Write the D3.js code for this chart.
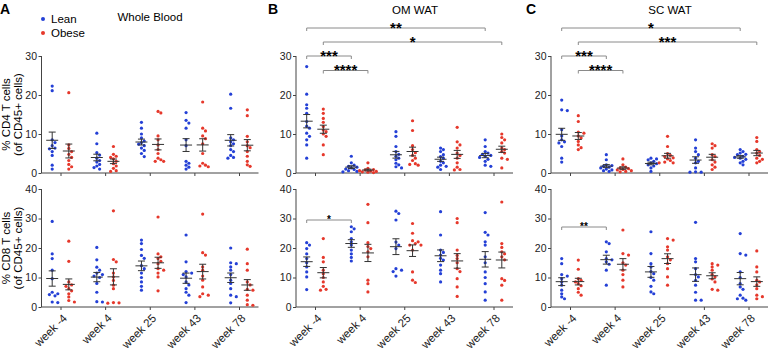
<!DOCTYPE html>
<html>
<head>
<meta charset="utf-8">
<script src="https://cdn.jsdelivr.net/npm/d3@7"></script>
<style>
  body { margin: 0; background: #fff; }
  svg { font-family: "Liberation Sans", Arial, sans-serif; }
  .axis path, .axis line { stroke: #444; }
  .axis text { fill: #222; font-size: 10.5px; }
</style>
</head>
<body>
<svg id="chart" width="768" height="350"></svg>
<script>
// categories
const weeks = ["week -4", "week 4", "week 25", "week 43", "week 78"];
const tissues = ["Whole Blood", "OM WAT", "SC WAT"];
const letters = ["A", "B", "C"];
const cd4Ticks = [0, 10, 20, 30];
const cd8Ticks = [0, 10, 20, 30, 40];

// % CD4 T cells, one list per week
const bloodCD4Lean = [
  [22.3, 21.1, 8.5, 7.8, 7.0, 6.4, 6.2, 5.5, 4.5, 2.0, 1.0],
  [10.2, 7.5, 5.2, 4.6, 3.8, 3.2, 2.8, 2.2, 1.8, 1.4, 1.0],
  [13.0, 11.5, 10.0, 9.0, 8.2, 7.8, 7.4, 7.0, 6.4, 5.8, 5.0, 4.2],
  [15.5, 13.5, 12.8, 11.5, 8.5, 7.0, 3.0, 2.5, 2.0, 1.5, 1.0],
  [20.2, 16.6, 9.0, 8.5, 8.0, 7.5, 7.0, 6.0, 5.5, 4.5, 4.0, 3.8]
];
const bloodCD4Obese = [
  [20.6, 7.2, 6.3, 5.5, 4.8, 4.0, 3.2, 2.2, 1.6, 1.0],
  [6.8, 4.8, 4.3, 4.0, 3.6, 3.0, 2.4, 1.8, 1.2, 0.6, 0.4],
  [15.8, 15.4, 9.5, 8.5, 7.2, 6.0, 5.0, 3.8, 3.4, 3.0, 3.0],
  [18.2, 11.5, 10.8, 9.5, 8.8, 7.5, 5.0, 2.5, 2.0, 1.8, 1.6],
  [16.2, 14.7, 9.4, 8.0, 7.0, 6.5, 5.5, 4.3, 3.0, 2.1, 1.7]
];
const omCD4Lean = [
  [27.3, 20.2, 17.5, 16.6, 15.3, 13.2, 12.0, 11.5, 10.2, 9.4, 8.5, 7.2, 3.8],
  [4.3, 2.6, 2.0, 1.7, 1.5, 1.3, 1.0, 0.9, 0.6, 0.4, 0.3],
  [10.6, 9.4, 6.8, 5.5, 4.8, 4.3, 3.8, 3.4, 2.5, 2.1, 1.6, 1.3],
  [6.4, 6.0, 5.5, 4.7, 4.2, 3.8, 3.0, 2.6, 2.0, 1.7, 1.5, 0.9],
  [8.5, 6.8, 5.5, 5.1, 4.8, 4.5, 4.3, 4.0, 3.5, 3.0, 2.0, 1.7]
];
const omCD4Obese = [
  [16.4, 15.3, 14.0, 13.0, 11.9, 11.0, 10.6, 10.0, 9.4, 7.2, 4.7],
  [2.6, 1.2, 0.9, 0.8, 0.6, 0.5, 0.4, 0.3, 0.2, 0.1],
  [13.4, 10.9, 7.0, 6.0, 5.2, 4.5, 3.8, 3.2, 2.4, 2.0, 2.2],
  [11.7, 8.0, 7.2, 6.4, 5.1, 4.5, 3.8, 2.6, 1.5, 0.9, 0.8],
  [10.0, 9.1, 8.5, 7.7, 6.4, 6.0, 5.5, 5.1, 3.8, 3.5, 1.3]
];
const scCD4Lean = [
  [18.7, 16.2, 16.0, 11.1, 9.5, 8.5, 8.0, 7.7, 6.8, 3.8, 2.8],
  [4.7, 3.4, 2.1, 1.9, 1.7, 1.5, 1.3, 1.0, 0.8, 0.6, 0.4],
  [3.8, 3.6, 3.4, 3.0, 2.6, 2.4, 2.1, 1.8, 1.3, 0.4],
  [8.5, 6.4, 5.5, 4.7, 3.8, 3.0, 2.6, 1.3, 0.3, 0.2, 0.2],
  [6.0, 5.5, 5.1, 4.8, 4.7, 4.3, 4.0, 3.8, 3.5, 3.0, 2.6, 2.1]
];
const scCD4Obese = [
  [14.7, 13.2, 10.5, 10.2, 9.5, 9.0, 8.1, 7.2, 6.5, 6.0],
  [3.6, 2.1, 1.5, 1.3, 1.1, 0.9, 0.8, 0.6, 0.4, 0.3],
  [9.4, 6.8, 5.0, 4.5, 4.2, 3.9, 3.6, 3.2, 2.8, 2.6, 2.6],
  [7.5, 7.0, 6.4, 4.7, 4.2, 3.4, 2.8, 2.1, 1.5, 0.9],
  [9.1, 8.1, 6.0, 5.5, 5.1, 4.5, 3.8, 3.5, 3.0, 2.6]
];

// % CD8 T cells
const bloodCD8Lean = [
  [29.0, 18.0, 16.4, 12.5, 9.6, 5.0, 4.5, 4.2, 3.8, 1.7, 1.5],
  [20.2, 16.0, 13.5, 12.5, 11.5, 11.0, 10.5, 10.0, 8.0, 5.0, 1.8, 1.7],
  [22.7, 21.5, 19.5, 17.5, 16.5, 14.0, 13.0, 11.5, 10.0, 8.5, 7.0, 5.7],
  [24.4, 15.3, 12.0, 11.5, 11.0, 10.2, 8.5, 7.5, 6.2, 5.0, 4.0, 1.5],
  [20.0, 15.0, 14.7, 13.6, 12.5, 11.0, 9.1, 8.0, 6.2, 4.0, 3.5, 1.4]
];
const bloodCD8Obese = [
  [22.3, 15.5, 8.5, 7.5, 7.0, 6.2, 5.5, 4.5, 3.4, 2.2, 1.7],
  [32.6, 16.1, 15.3, 11.5, 10.2, 9.0, 7.4, 6.2, 1.5, 1.4, 1.3],
  [30.5, 18.0, 17.0, 16.4, 15.5, 14.7, 13.0, 12.5, 11.5, 10.2, 5.5],
  [31.5, 18.4, 17.6, 13.6, 12.5, 10.5, 9.1, 6.8, 4.5, 4.0, 3.5],
  [19.6, 14.7, 12.5, 8.5, 7.5, 6.0, 5.7, 4.0, 2.3, 0.8, 0.6]
];
const omCD8Lean = [
  [21.8, 21.0, 19.8, 18.0, 16.4, 15.0, 13.6, 11.9, 10.2, 5.9],
  [27.2, 26.5, 25.5, 23.2, 22.1, 21.0, 19.3, 18.0, 16.8, 15.6],
  [32.5, 31.7, 29.5, 22.0, 21.0, 19.8, 13.0, 12.5, 12.0, 10.5],
  [32.3, 24.4, 19.3, 18.5, 17.6, 16.5, 15.9, 14.2, 12.5, 11.3, 8.5],
  [32.0, 25.3, 24.4, 22.1, 21.0, 17.0, 15.0, 11.9, 10.0, 7.9, 5.1, 2.3]
];
const omCD8Obese = [
  [23.2, 16.8, 15.3, 12.5, 11.3, 10.0, 8.5, 7.0, 6.0, 5.7],
  [34.8, 28.6, 21.8, 20.5, 19.8, 18.7, 17.0, 9.1, 7.9, 5.1],
  [28.3, 25.0, 22.5, 22.1, 21.5, 21.0, 21.0, 19.3, 11.9, 9.1, 8.3],
  [30.0, 28.6, 19.3, 17.5, 16.4, 15.0, 13.0, 12.0, 9.6, 6.8, 3.6],
  [35.6, 21.5, 20.2, 18.7, 18.0, 17.0, 16.0, 9.6, 9.0, 7.4, 2.3]
];
const scCD8Lean = [
  [16.4, 14.7, 11.0, 10.5, 9.6, 8.5, 7.4, 5.7, 4.5, 3.4, 2.8],
  [22.1, 21.5, 18.7, 16.4, 16.0, 15.3, 14.5, 12.5, 7.4],
  [25.5, 18.1, 14.7, 13.6, 12.0, 11.3, 10.0, 9.1, 7.0, 5.1, 4.5],
  [28.7, 16.4, 15.3, 13.0, 11.0, 10.2, 9.0, 7.4, 5.0, 2.3, 2.3],
  [24.9, 18.1, 17.6, 11.9, 10.0, 7.9, 6.8, 6.0, 4.0, 3.0, 2.8, 2.3]
];
const scCD8Obese = [
  [15.9, 12.8, 9.6, 9.0, 8.5, 7.9, 7.2, 6.2, 5.0, 4.0],
  [26.1, 18.1, 17.6, 15.0, 14.2, 12.5, 11.0, 9.1, 6.8],
  [23.2, 22.7, 20.4, 19.3, 17.0, 16.0, 14.7, 13.0, 10.2, 7.4],
  [14.7, 14.2, 13.6, 12.5, 11.0, 10.2, 9.5, 8.5, 6.0, 5.7],
  [19.0, 13.6, 11.9, 9.1, 8.5, 7.5, 6.2, 4.0, 3.5, 2.8]
];

// significance brackets: [panel, row, from week, to week, group, label]
const sigBrackets = [
  [1, 0, 0, 4, "lean", "**"],
  [1, 0, 0, 4, "obese", "*"],
  [1, 0, 0, 1, "lean", "***"],
  [1, 0, 0, 1, "obese", "****"],
  [2, 0, 0, 4, "lean", "*"],
  [2, 0, 0, 4, "obese", "***"],
  [2, 0, 0, 1, "lean", "***"],
  [2, 0, 0, 1, "obese", "****"],
  [1, 1, 0, 1, "lean", "*"],
  [2, 1, 0, 1, "lean", "**"]
];

const colors = { lean: "#2440d6", obese: "#e6382b" };
const panelData = [
  [[bloodCD4Lean, bloodCD4Obese], [bloodCD8Lean, bloodCD8Obese]],
  [[omCD4Lean, omCD4Obese], [omCD8Lean, omCD8Obese]],
  [[scCD4Lean, scCD4Obese], [scCD8Lean, scCD8Obese]]
];

const svg = d3.select("#chart");
const panelX = [41.5, 296, 551];
const panelW = 217;
const letterX = [0, 268, 526];
const rows = [
  { y0: 173, y1: 56, max: 30, ticks: cd4Ticks, label: "% CD4 T cells" },
  { y0: 307, y1: 189, max: 40, ticks: cd8Ticks, label: "% CD8 T cells" }
];
const groupShift = { lean: -8.3, obese: 8.3 };
const bracketLevels = [28, 42, 56, 70.5];
const bottomBracketY = [null, 220, 227];

// simple deterministic swarm so dots with close values sit side by side
function swarm(vals, y) {
  const placed = [];
  const order = vals.map((v, i) => i).sort((a, b) => vals[b] - vals[a]);
  const cand = [0, 2.8, -2.8, 5.6, -5.6, 8.4, -8.4];
  const out = new Array(vals.length);
  order.forEach(i => {
    const py = y(vals[i]);
    let best = 0, bestD = -1;
    for (const dx of cand) {
      let m = Infinity;
      placed.forEach(p => { m = Math.min(m, Math.hypot(p[0] - dx, p[1] - py)); });
      if (m > 3.2) { best = dx; bestD = m; break; }
      if (m > bestD) { bestD = m; best = dx; }
    }
    placed.push([best, py]);
    out[i] = [best, py];
  });
  return out;
}

panelData.forEach((panel, pi) => {
  const x = d3.scalePoint().domain(weeks).range([19, 197.5]);
  const g = svg.append("g").attr("transform", "translate(" + panelX[pi] + ",0)");

  svg.append("text").attr("x", letterX[pi]).attr("y", 13.5)
    .style("font-weight", "bold").style("font-size", "14px").text(letters[pi]);
  g.append("text").attr("x", pi === 0 ? 108.5 : 119).attr("y", pi === 0 ? 21 : 13.5)
    .attr("text-anchor", "middle").style("font-size", "11.5px").text(tissues[pi]);

  panel.forEach((series, ri) => {
    const r = rows[ri];
    const y = d3.scaleLinear().domain([0, r.max]).range([r.y0, r.y1]);

    const yAx = g.append("g").attr("class", "axis")
      .call(d3.axisLeft(y).tickValues(r.ticks).tickSize(3).tickPadding(1.5));
    yAx.select(".domain").attr("d", "M0," + r.y1 + "V" + r.y0);

    const xAx = g.append("g").attr("class", "axis")
      .attr("transform", "translate(0," + r.y0 + ")")
      .call(d3.axisBottom(x).tickSize(3).tickFormat(ri === 1 ? null : ""));
    xAx.select(".domain").attr("d", "M0,0H" + (pi === 2 ? 228 : panelW));
    if (ri === 1) {
      xAx.selectAll("text")
        .attr("text-anchor", "end")
        .attr("transform", "translate(4,9) rotate(-45)")
        .attr("dy", "0.35em").attr("y", 0)
        .style("font-size", "11.5px");
    }

    ["lean", "obese"].forEach((grp, gi) => {
      series[gi].forEach((vals, wi) => {
        const cx = x(weeks[wi]) + groupShift[grp];
        const pts = swarm(vals, y);
        g.append("g").selectAll("circle").data(pts).enter().append("circle")
          .attr("cx", d => cx + d[0]).attr("cy", d => d[1]).attr("r", 1.6)
          .attr("fill", colors[grp]);

        const m = d3.mean(vals);
        const sem = d3.deviation(vals) / Math.sqrt(vals.length);
        const eb = g.append("g").attr("stroke", "#333").attr("stroke-width", 1);
        eb.append("line").attr("x1", cx).attr("x2", cx)
          .attr("y1", y(m - sem)).attr("y2", y(m + sem));
        [m - sem, m + sem].forEach(v => {
          eb.append("line").attr("x1", cx - 3.5).attr("x2", cx + 3.5)
            .attr("y1", y(v)).attr("y2", y(v));
        });
        eb.append("line").attr("x1", cx - 6).attr("x2", cx + 6)
          .attr("y1", y(m)).attr("y2", y(m));
      });
    });

    // rotated y label, only left panel
    if (pi === 0) {
      const cy = (r.y0 + r.y1) / 2;
      const lab = svg.append("g");
      lab.append("text").attr("transform", "translate(9.5," + cy + ") rotate(-90)")
        .attr("text-anchor", "middle").style("font-size", "11.5px").text(r.label);
      lab.append("text").attr("transform", "translate(22," + cy + ") rotate(-90)")
        .attr("text-anchor", "middle").style("font-size", "11.5px").text("(of CD45+ cells)");
    }
  });

  // brackets
  let level = 0;
  sigBrackets.filter(b => b[0] === pi).forEach(b => {
    const x1 = x(weeks[b[2]]) + groupShift[b[4]];
    const x2 = x(weeks[b[3]]) + groupShift[b[4]];
    const top = b[1] === 0;
    const by = top ? bracketLevels[level++] : bottomBracketY[pi];
    g.append("path")
      .attr("d", "M" + x1 + "," + (by + 3) + "V" + by + "H" + x2 + "V" + (by + 3))
      .attr("fill", "none").attr("stroke", "#8a8a8a").attr("stroke-width", 1);
    g.append("text").attr("x", (x1 + x2) / 2).attr("y", by + (top ? 4.5 : 2.5))
      .attr("text-anchor", "middle")
      .style("font-size", top ? "15px" : "10px").style("font-weight", "bold")
      .text(b[5]);
  });
});

// legend
const legend = svg.append("g");
[["lean", "Lean", 19], ["obese", "Obese", 33]].forEach(l => {
  legend.append("circle").attr("cx", 43).attr("cy", l[2]).attr("r", 2).attr("fill", colors[l[0]]);
  legend.append("text").attr("x", 51).attr("y", l[2] + 4).style("font-size", "11.5px").text(l[1]);
});
</script>
</body>
</html>
